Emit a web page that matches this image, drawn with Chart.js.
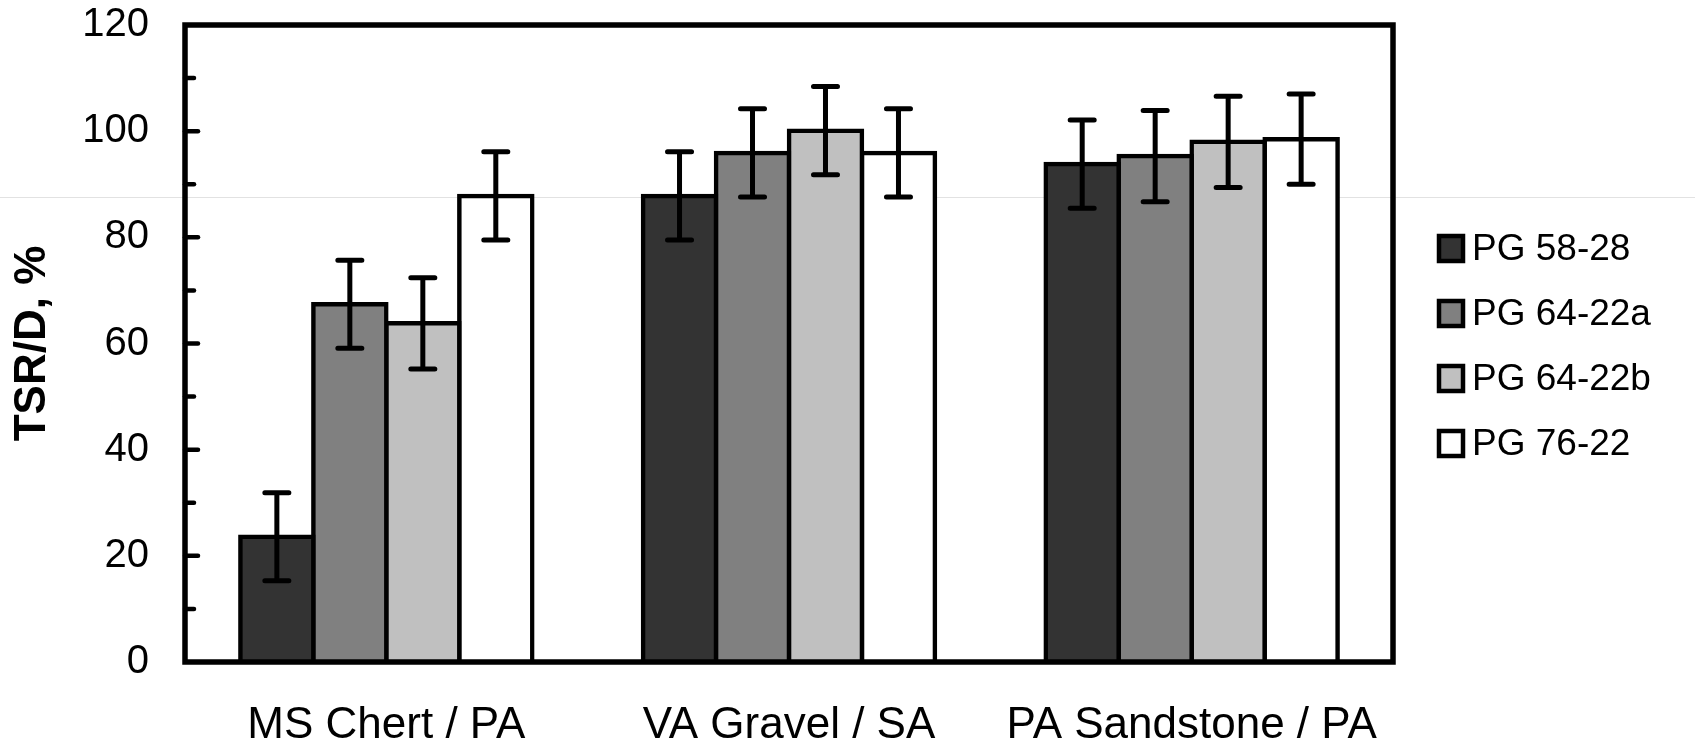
<!DOCTYPE html>
<html>
<head>
<meta charset="utf-8">
<script src="https://cdn.jsdelivr.net/npm/chart.js@4"></script>
<style>
	body { margin: 0; background: #fff; }
	#wrap { position: relative; width: 1695px; height: 747px; }
	#scan-line { position: absolute; left: 0; top: 197px; width: 1695px; height: 1px; background: #e2e2e2; }
	#tsr-chart { position: absolute; left: 0; top: 0; }
</style>
</head>
<body>
<div id="wrap">
	<div id="scan-line"></div>
	<canvas id="tsr-chart"></canvas>
</div>
<script>
var aggregateLabels = ["MS Chert / PA", "VA Gravel / SA", "PA Sandstone / PA"];
var binderNames = ["PG 58-28", "PG 64-22a", "PG 64-22b", "PG 76-22"];
var binderColors = ["#333333", "#808080", "#c0c0c0", "#ffffff"];

var tsrPG5828 = [23.6, 87.8, 93.8];
var tsrPG6422a = [67.4, 95.9, 95.3];
var tsrPG6422b = [63.8, 100.1, 98.0];
var tsrPG7622 = [87.8, 95.9, 98.5];

var errPG5828 = [8.3, 8.3, 8.3];
var errPG6422a = [8.3, 8.3, 8.6];
var errPG6422b = [8.6, 8.3, 8.6];
var errPG7622 = [8.3, 8.3, 8.5];

var yMin = 0;
var yMax = 120;
var yStep = 20;

const FONT = "'Liberation Sans', Arial, sans-serif";

const tsrSeries = [tsrPG5828, tsrPG6422a, tsrPG6422b, tsrPG7622];
const errSeries = [errPG5828, errPG6422a, errPG6422b, errPG7622];

//* frame, inward minor/major ticks and the error bars
const frameAndErrorBars = {
	id: "frameAndErrorBars",
	afterDatasetsDraw(chart) {
		const ctx = chart.ctx;
		const area = chart.chartArea;
		const y = chart.scales.y;

		ctx.save();
		ctx.strokeStyle = "#000";
		ctx.lineCap = "round";

		// error bars
		ctx.lineWidth = 5;
		chart.data.datasets.forEach(function (ds, i) {
			const meta = chart.getDatasetMeta(i);
			meta.data.forEach(function (bar, j) {
				const v = ds.data[j];
				const e = errSeries[i][j];
				const top = y.getPixelForValue(v + e);
				const bot = y.getPixelForValue(v - e);
				ctx.beginPath();
				ctx.moveTo(bar.x, top);
				ctx.lineTo(bar.x, bot);
				ctx.moveTo(bar.x - 12, top);
				ctx.lineTo(bar.x + 12, top);
				ctx.moveTo(bar.x - 12, bot);
				ctx.lineTo(bar.x + 12, bot);
				ctx.stroke();
			});
		});

		// ticks pointing into the plot
		ctx.lineWidth = 4.5;
		for (let v = yMin + 10; v < yMax; v += 10) {
			const py = y.getPixelForValue(v);
			const len = v % yStep === 0 ? 13 : 9;
			ctx.beginPath();
			ctx.moveTo(area.left, py);
			ctx.lineTo(area.left + len, py);
			ctx.stroke();
		}

		// plot frame
		ctx.lineCap = "butt";
		ctx.lineWidth = 5.5;
		ctx.strokeRect(area.left, area.top, area.right - area.left, area.bottom - area.top);
		ctx.restore();
	},
	afterDraw(chart) {
		//* legend on the right side
		const ctx = chart.ctx;
		ctx.save();
		ctx.font = "37px " + FONT;
		ctx.textBaseline = "middle";
		chart.data.datasets.forEach(function (ds, i) {
			const cy = 249 + i * 65;
			ctx.fillStyle = ds.backgroundColor;
			ctx.fillRect(1439, cy - 13, 24, 25);
			ctx.lineWidth = 4.5;
			ctx.strokeStyle = "#000";
			ctx.strokeRect(1439, cy - 13, 24, 25);
			ctx.fillStyle = "#000";
			ctx.fillText(ds.label, 1472, cy + 1);
		});
		ctx.restore();
	},
};

function createTSRChart() {
	const datasets = binderNames.map(function (name, i) {
		return {
			label: name,
			data: tsrSeries[i],
			backgroundColor: binderColors[i],
			borderColor: "#000",
			borderWidth: 4.5,
			borderSkipped: "start",
			//* centre the outline on the bar edge, like the original
			inflateAmount: 2.25,
			categoryPercentage: 0.725,
			barPercentage: 1.0,
		};
	});

	const config = {
		type: "bar",
		data: {
			labels: aggregateLabels,
			datasets: datasets,
		},
		options: {
			responsive: false,
			animation: false,
			layout: {
				padding: { top: 25, right: 302, bottom: 0, left: 0 },
			},
			plugins: {
				legend: { display: false },
				tooltip: { enabled: false },
			},
			scales: {
				x: {
					grid: { display: false, drawTicks: false },
					border: { display: false },
					ticks: {
						color: "#000",
						padding: 37,
						font: { family: FONT, size: 44 },
					},
					afterFit(scale) {
						scale.height = 85;
					},
				},
				y: {
					min: yMin,
					max: yMax,
					grid: { display: false, drawTicks: false },
					border: { display: false },
					ticks: {
						stepSize: yStep,
						color: "#000",
						padding: 36,
						font: { family: FONT, size: 40 },
					},
					title: {
						display: true,
						text: "TSR/D, %",
						color: "#000",
						padding: { top: 6, bottom: 0 },
						font: { family: FONT, size: 44, weight: "bold" },
					},
					afterFit(scale) {
						scale.width = 185;
						//* tick padding would otherwise push the plot top down
						scale.paddingTop = 20;
					},
				},
			},
		},
		plugins: [frameAndErrorBars],
	};

	const canvas = document.getElementById("tsr-chart");
	canvas.width = 1695;
	canvas.height = 747;
	return new Chart(canvas, config);
}

createTSRChart();
</script>
</body>
</html>
